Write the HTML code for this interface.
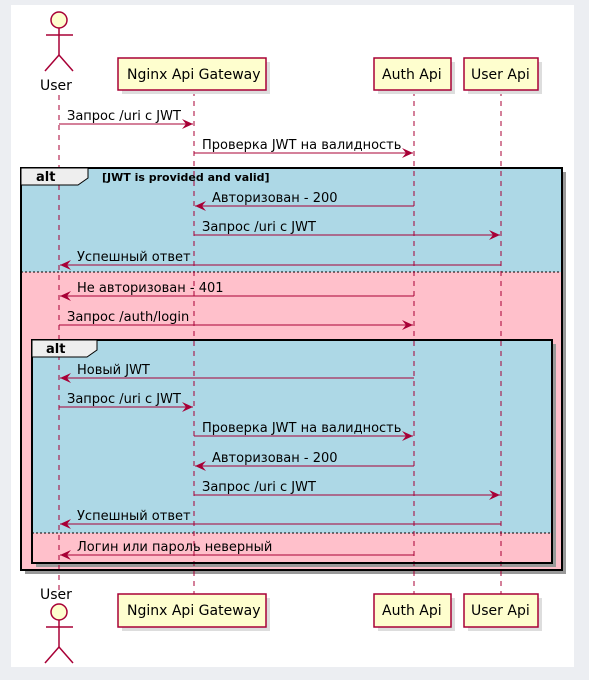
<!DOCTYPE html>
<html><head><meta charset="utf-8"><style>
html,body{margin:0;padding:0;background:#eceef2;}
svg{display:block;}
text{font-family:"DejaVu Sans","Liberation Sans",sans-serif;font-size:13px;fill:#000;}
.p{font-size:14px;}
.b{font-weight:bold;}
</style></head><body>
<svg width="589" height="680" viewBox="0 0 589 680" xmlns="http://www.w3.org/2000/svg">
<defs>
<marker id="ar" markerWidth="12" markerHeight="10" refX="11" refY="5" orient="auto" markerUnits="userSpaceOnUse">
<path d="M0,0 L11,5 L0,10 L4,5 Z" fill="#a80036"/>
</marker>
</defs>
<rect x="11" y="5" width="563" height="662" fill="#fff"/>

<rect x="25" y="172" width="541" height="402" fill="#999"/>
<rect x="21" y="168" width="541" height="104" fill="#add8e6"/>
<rect x="21" y="272" width="541" height="298" fill="#ffc0cb"/>
<line x1="21" y1="272" x2="562" y2="272" stroke="#000" stroke-dasharray="2,2"/>
<rect x="36" y="344" width="520" height="223" fill="#999"/>
<rect x="32" y="340" width="520" height="193" fill="#add8e6"/>
<rect x="32" y="533" width="520" height="30" fill="#ffc0cb"/>
<line x1="32" y1="533" x2="552" y2="533" stroke="#000" stroke-dasharray="2,2"/>

<g stroke="#a80036" stroke-dasharray="5,5" stroke-width="1">
<line x1="59" y1="95" x2="59" y2="590"/>
<line x1="194" y1="91" x2="194" y2="594"/>
<line x1="414" y1="91" x2="414" y2="594"/>
<line x1="501" y1="91" x2="501" y2="594"/>
</g>

<rect x="21" y="168" width="541" height="402" fill="none" stroke="#000" stroke-width="2"/>
<path d="M21,168 L88,168 L88,178 L78,185 L21,185 Z" fill="#eee" stroke="#000" stroke-width="1"/>
<text x="36" y="181" class="b">alt</text>
<text x="102" y="181" class="b" style="font-size:11px">[JWT is provided and valid]</text>
<rect x="32" y="340" width="520" height="223" fill="none" stroke="#000" stroke-width="2"/>
<path d="M32,340 L97,340 L97,350 L87,357 L32,357 Z" fill="#eee" stroke="#000" stroke-width="1"/>
<text x="46" y="353" class="b">alt</text>

<g fill="#ddd">
<rect x="122" y="62" width="148" height="32"/>
<rect x="378" y="62" width="77" height="32"/>
<rect x="468" y="62" width="74" height="32"/>
<rect x="122" y="598" width="148" height="33"/>
<rect x="378" y="598" width="77" height="33"/>
<rect x="468" y="598" width="74" height="33"/>
</g>
<g fill="#fefece" stroke="#a80036" stroke-width="1.5">
<rect x="118" y="58" width="148" height="32"/>
<rect x="374" y="58" width="77" height="32"/>
<rect x="464" y="58" width="74" height="32"/>
<rect x="118" y="594" width="148" height="33"/>
<rect x="374" y="594" width="77" height="33"/>
<rect x="464" y="594" width="74" height="33"/>
</g>
<text x="127" y="79" class="p">Nginx Api Gateway</text>
<text x="382" y="79" class="p">Auth Api</text>
<text x="471" y="79" class="p">User Api</text>
<text x="127" y="615" class="p">Nginx Api Gateway</text>
<text x="382" y="615" class="p">Auth Api</text>
<text x="471" y="615" class="p">User Api</text>

<g stroke="#a80036" stroke-width="1.5" fill="#fefece">
<circle cx="59" cy="20" r="8"/>
<line x1="59" y1="28" x2="59" y2="55"/>
<line x1="46" y1="35" x2="73" y2="35"/>
<path d="M45,71 L59,55 L73,71" fill="none"/>
<circle cx="59" cy="612" r="8"/>
<line x1="59" y1="620" x2="59" y2="647"/>
<line x1="46" y1="627" x2="73" y2="627"/>
<path d="M45,663 L59,647 L73,663" fill="none"/>
</g>
<text x="40" y="90" class="p">User</text>
<text x="40" y="599" class="p">User</text>

<g stroke="#a80036" stroke-width="1" marker-end="url(#ar)">
<line x1="59" y1="124" x2="193" y2="124"/>
<line x1="194" y1="153" x2="413" y2="153"/>
<line x1="414" y1="206" x2="195" y2="206"/>
<line x1="194" y1="235" x2="500" y2="235"/>
<line x1="501" y1="265" x2="60" y2="265"/>
<line x1="414" y1="296" x2="60" y2="296"/>
<line x1="59" y1="325" x2="413" y2="325"/>
<line x1="414" y1="378" x2="60" y2="378"/>
<line x1="59" y1="407" x2="193" y2="407"/>
<line x1="194" y1="436" x2="413" y2="436"/>
<line x1="414" y1="466" x2="195" y2="466"/>
<line x1="194" y1="495" x2="500" y2="495"/>
<line x1="501" y1="524" x2="60" y2="524"/>
<line x1="414" y1="555" x2="60" y2="555"/>
</g>
<text x="67" y="120">Запрос /uri с JWT</text>
<text x="202" y="149">Проверка JWT на валидность</text>
<text x="212" y="202">Авторизован - 200</text>
<text x="202" y="231">Запрос /uri с JWT</text>
<text x="77" y="261">Успешный ответ</text>
<text x="77" y="292">Не авторизован - 401</text>
<text x="67" y="321">Запрос /auth/login</text>
<text x="77" y="374">Новый JWT</text>
<text x="67" y="403">Запрос /uri с JWT</text>
<text x="202" y="432">Проверка JWT на валидность</text>
<text x="212" y="462">Авторизован - 200</text>
<text x="202" y="491">Запрос /uri с JWT</text>
<text x="77" y="520">Успешный ответ</text>
<text x="77" y="551">Логин или пароль неверный</text>
</svg>
</body></html>
